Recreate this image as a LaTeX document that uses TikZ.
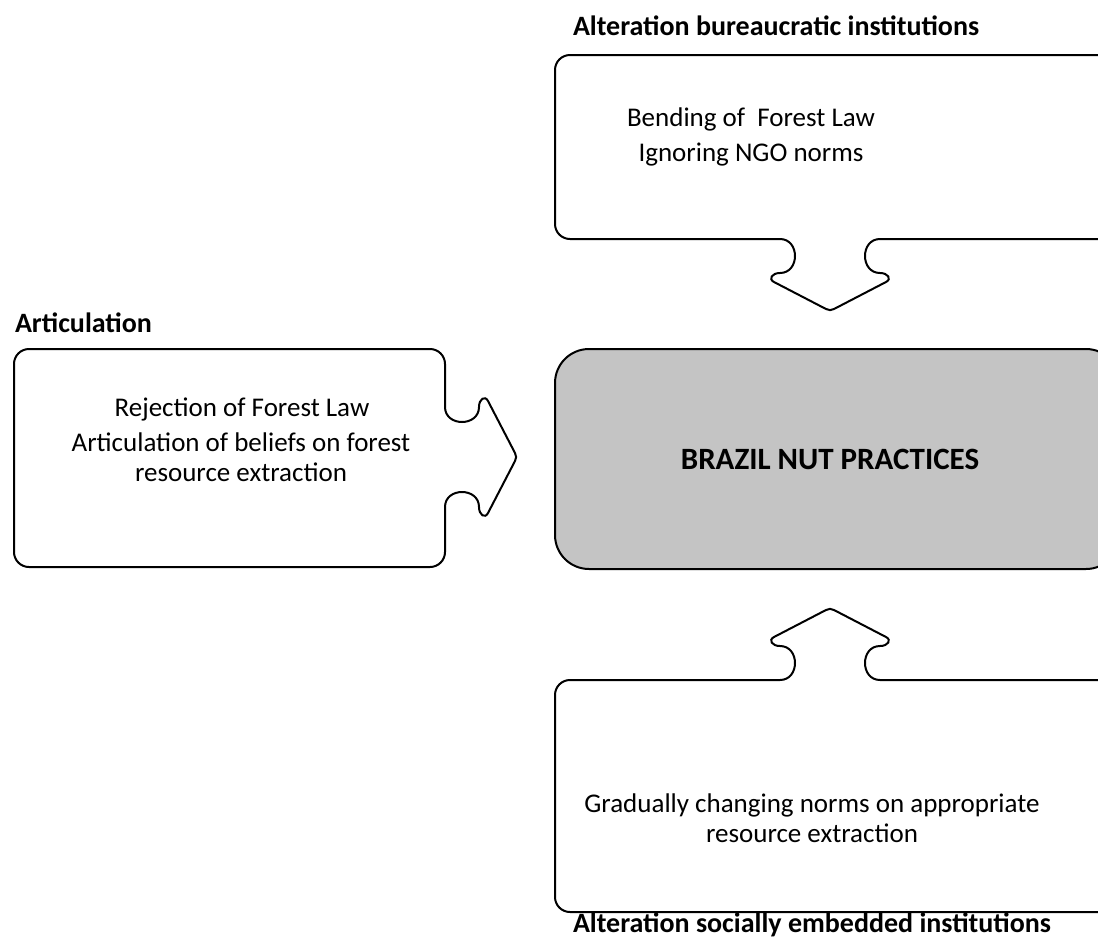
\documentclass[tikz,border=0pt]{standalone}
\usepackage{fontspec}
\setmainfont{Carlito}
\usepackage{tikz}
\usetikzlibrary{positioning}
\definecolor{nutgray}{HTML}{C4C4C4}

\begin{document}
\begin{tikzpicture}[x=0.5pt, y=-0.5pt, line width=1pt, on grid,
    lbl/.style={font=\bfseries\fontsize{14}{16}\selectfont, anchor=west, inner sep=0pt},
    txt/.style={font=\fontsize{13.5}{14.8}\selectfont}]
  \useasboundingbox (0,0) rectangle (1098,938);
  \clip (0,0) rectangle (1098,938);
  % top box, tab pointing down
  \draw (570,55) -- (1120,55) -- (1120,239) -- (880,239)
    .. controls (860,239) and (860,273) .. (880,273)
    .. controls (888,273) and (892,279) .. (886,282) -- (834,309)
    .. controls (831.5,310.5) and (828.5,310.5) .. (826,309) -- (774,282)
    .. controls (768,279) and (772,273) .. (780,273)
    .. controls (800,273) and (800,239) .. (780,239)
    -- (570,239) .. controls (561.7,239) and (555,232.3) .. (555,224)
    -- (555,70) .. controls (555,61.7) and (561.7,55) .. (570,55) -- cycle;
  % left box, tab pointing right
  \draw (29,349) -- (430,349) .. controls (438.3,349) and (445,355.7) .. (445,364) -- (445,407)
    .. controls (445,427) and (479,427) .. (479,407)
    .. controls (479,399) and (485,395) .. (488,401) -- (515,453)
    .. controls (516.5,455.5) and (516.5,458.5) .. (515,461) -- (488,513)
    .. controls (485,519) and (479,515) .. (479,507)
    .. controls (479,487) and (445,487) .. (445,507)
    -- (445,552) .. controls (445,560.3) and (438.3,567) .. (430,567)
    -- (29,567) .. controls (20.7,567) and (14,560.3) .. (14,552)
    -- (14,364) .. controls (14,355.7) and (20.7,349) .. (29,349) -- cycle;
  % centre box
  \filldraw[fill=nutgray, rounded corners=17] (555,349) rectangle (1120,569);
  % bottom box, tab pointing up
  \draw (555,695) .. controls (555,686.7) and (561.7,680) .. (570,680) -- (780,680)
    .. controls (800,680) and (800,646) .. (780,646)
    .. controls (772,646) and (768,640) .. (774,637) -- (826,610)
    .. controls (828.5,608.5) and (831.5,608.5) .. (834,610) -- (886,637)
    .. controls (892,640) and (888,646) .. (880,646)
    .. controls (860,646) and (860,680) .. (880,680)
    -- (1120,680) -- (1120,912) -- (570,912)
    .. controls (561.7,912) and (555,905.3) .. (555,897) -- cycle;

  \node[lbl] (bur) at (572,26) {Alteration bureaucratic institutions};
  \node[lbl] (art) at (14,323) {Articulation};
  \node[lbl] (soc) at (572,925) {Alteration socially embedded institutions};

  \node[txt] (bend) at (751,119) {Bending of\ \ Forest Law};
  \node[txt] (ngo) [below=18pt of bend] {Ignoring NGO norms};

  \node[txt] (rej) at (242,409) {Rejection of Forest Law};
  \node[txt, align=center] (belief) at (241,457) {Articulation of beliefs on forest\\resource extraction};

  \node[font=\bfseries\fontsize{15.5}{18}\selectfont] (bnp) at (830,459) {BRAZIL NUT PRACTICES};

  \node[txt, align=center] (grad) at (812,818) {Gradually changing norms on appropriate\\resource extraction};
\end{tikzpicture}
\end{document}
